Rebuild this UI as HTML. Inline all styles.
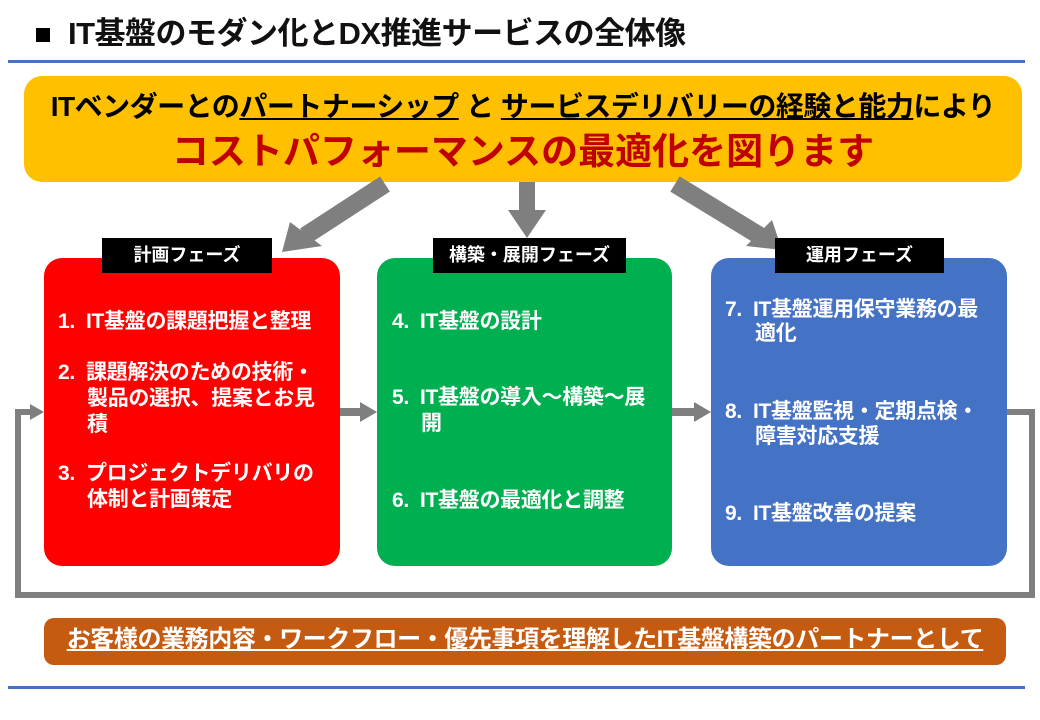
<!DOCTYPE html>
<html><head><meta charset="utf-8"><style>
*{margin:0;padding:0;box-sizing:border-box}
body{width:1040px;height:720px;background:#fff;position:relative;overflow:hidden;font-family:"Liberation Sans","Noto Sans CJK JP",sans-serif;font-weight:bold}
.a{position:absolute;white-space:nowrap}
.box{position:absolute;border-radius:18px}
.lab{position:absolute;background:#000;color:#fff;font-size:18px;text-align:center;line-height:35px;height:35px}
.t{position:absolute;color:#fff;font-size:21px;white-space:nowrap;line-height:26px;letter-spacing:-0.3px}
</style></head><body>
<div class="a" style="left:36px;top:28px;width:14px;height:14px;background:#000"></div>
<div class="a" style="left:68px;top:15px;font-size:31px;line-height:38px;color:#111;letter-spacing:-0.5px">IT基盤のモダン化とDX推進サービスの全体像</div>
<div class="a" style="left:8px;top:60px;width:1017px;height:3px;background:#4472c4"></div>

<div class="box" style="left:24px;top:76px;width:998px;height:106px;background:#ffc000"></div>
<div class="a" style="left:24px;width:998px;top:89px;text-align:center;font-size:28px;line-height:36px;color:#000;letter-spacing:-0.5px">ITベンダーとの<u>パートナーシップ</u> と <u>サービスデリバリーの経験と能力</u>により</div>
<div class="a" style="left:24px;width:998px;top:129px;text-align:center;font-size:37px;line-height:46px;color:#c00000">コストパフォーマンスの最適化を図ります</div>

<svg class="a" style="left:0;top:0" width="1040" height="720">
<g fill="#7f7f7f" stroke="none">
<line x1="385" y1="184" x2="305" y2="236" stroke="#7f7f7f" stroke-width="18"/>
<polygon points="282,252 290,222 322,246"/>
<rect x="519" y="182" width="16" height="30"/>
<polygon points="508,210 546,210 527,238"/>
<line x1="675" y1="184" x2="760" y2="236" stroke="#7f7f7f" stroke-width="18"/>
<polygon points="782,250 746,246 772,220"/>
<rect x="340" y="408" width="22" height="8"/><polygon points="360,402 377,412 360,422"/>
<rect x="672" y="408" width="24" height="8"/><polygon points="694,402 711,412 694,422"/>
<polyline points="1007,412 1032,412 1032,595 18,595 18,412 32,412" fill="none" stroke="#7f7f7f" stroke-width="6"/>
<polygon points="30,404 44,412 30,420"/>
</g>
</svg>

<div class="box" style="left:44px;top:258px;width:296px;height:308px;background:#ff0000"></div>
<div class="box" style="left:377px;top:258px;width:295px;height:308px;background:#00b050"></div>
<div class="box" style="left:711px;top:258px;width:296px;height:308px;background:#4472c4"></div>
<div class="lab" style="left:102px;top:238px;width:170px">計画フェーズ</div>
<div class="lab" style="left:433px;top:238px;width:193px">構築・展開フェーズ</div>
<div class="lab" style="left:775px;top:238px;width:169px">運用フェーズ</div>

<div class="t" style="left:58px;top:309px">1.&nbsp; IT基盤の課題把握と整理</div>
<div class="t" style="left:58px;top:360px">2.&nbsp; 課題解決のための技術・</div>
<div class="t" style="left:87px;top:386px">製品の選択、提案とお見</div>
<div class="t" style="left:87px;top:412px">積</div>
<div class="t" style="left:58px;top:461px">3.&nbsp; プロジェクトデリバリの</div>
<div class="t" style="left:87px;top:487px">体制と計画策定</div>

<div class="t" style="left:392px;top:309px">4.&nbsp; IT基盤の設計</div>
<div class="t" style="left:392px;top:385px">5.&nbsp; IT基盤の導入～構築～展</div>
<div class="t" style="left:421px;top:411px">開</div>
<div class="t" style="left:392px;top:488px">6.&nbsp; IT基盤の最適化と調整</div>

<div class="t" style="left:725px;top:297px">7.&nbsp; IT基盤運用保守業務の最</div>
<div class="t" style="left:755px;top:321px">適化</div>
<div class="t" style="left:725px;top:399px">8.&nbsp; IT基盤監視・定期点検・</div>
<div class="t" style="left:755px;top:424px">障害対応支援</div>
<div class="t" style="left:725px;top:501px">9.&nbsp; IT基盤改善の提案</div>

<div class="box" style="left:44px;top:618px;width:962px;height:47px;background:#c55a11;border-radius:10px"></div>
<div class="a" style="left:44px;width:962px;top:623px;text-align:center;color:#fff;font-size:24px;line-height:34px;letter-spacing:-0.4px"><u>お客様の業務内容・ワークフロー・優先事項を理解したIT基盤構築のパートナーとして</u></div>
<div class="a" style="left:8px;top:686px;width:1017px;height:3px;background:#4472c4"></div>
</body></html>
